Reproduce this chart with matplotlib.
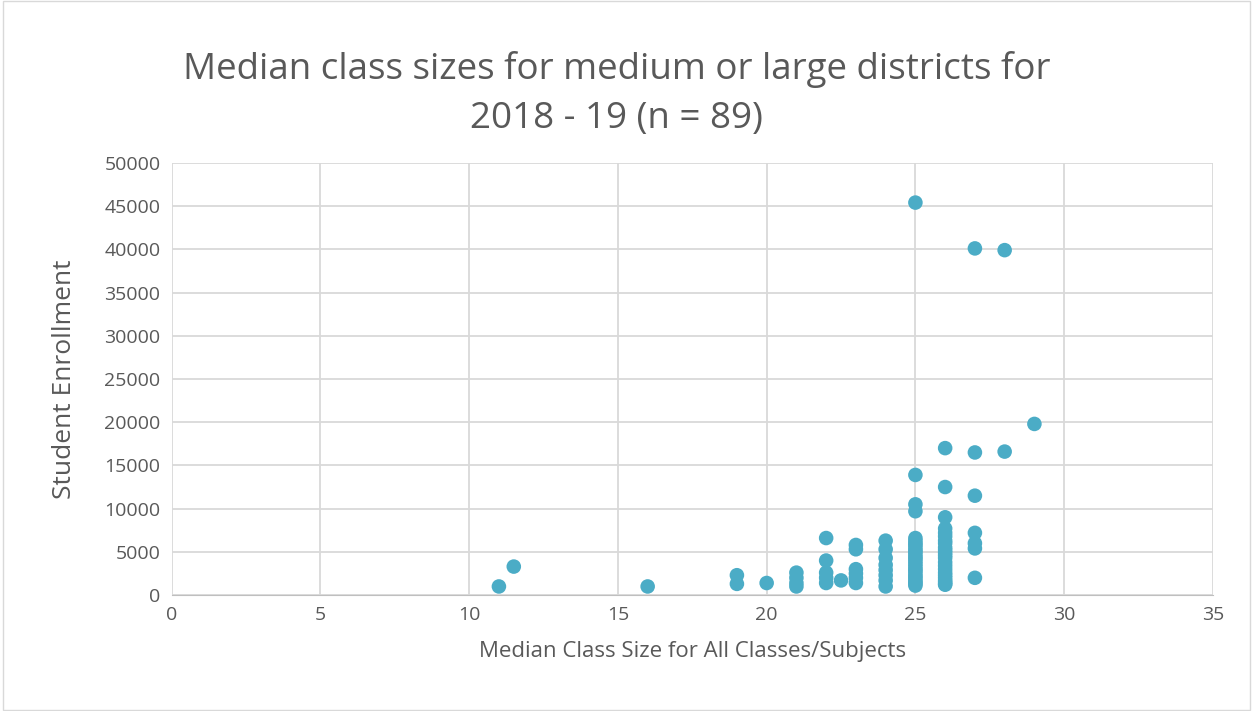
import numpy as np
import matplotlib
matplotlib.use("Agg")
import matplotlib.pyplot as plt
from matplotlib.patches import Rectangle

# median class size per district (x) and its student enrollment (y)
x_low = [11, 11.5, 16, 19, 19, 20, 21, 21, 21, 21]
y_low = [1000, 3300, 1000, 2300, 1300, 1400, 2600, 2000, 1400, 1000]

x_22 = [22, 22, 22, 22, 22, 22.5]
y_22 = [6600, 4000, 2600, 2000, 1400, 1700]

x_23 = [23] * 6
y_23 = [5800, 5300, 3000, 2500, 2000, 1400]

x_24 = [24] * 8
y_24 = [6300, 5300, 4300, 3500, 2900, 2300, 1700, 1000]

x_25 = [25] * 26
y_25 = [45400, 13900, 10500, 9700, 6600, 6300, 6000, 5800, 5500, 5200, 5000,
        4700, 4400, 4200, 3900, 3600, 3300, 3000, 2800, 2500, 2200, 2000,
        1700, 1500, 1300, 1100]

x_26 = [26] * 23
y_26 = [17000, 12500, 9000, 7700, 7200, 6800, 6300, 6000, 5500, 5200, 4900,
        4600, 4300, 3800, 3400, 3000, 2600, 2300, 2000, 1700, 1500, 1300, 1200]

x_high = [27, 27, 27, 27, 27, 27, 27, 28, 28, 29]
y_high = [40100, 16500, 11500, 7200, 6000, 5400, 2000, 39900, 16600, 19800]

xs = x_low + x_22 + x_23 + x_24 + x_25 + x_26 + x_high
ys = y_low + y_22 + y_23 + y_24 + y_25 + y_26 + y_high

TXT, GRID, DOT = "#595959", "#D9D9D9", "#4BACC6"
plt.rcParams["font.family"] = ["Open Sans", "DejaVu Sans"]

fig = plt.figure(figsize=(12.53, 7.11), dpi=100)
fig.patches.append(Rectangle((0.002, 0.002), 0.996, 0.996, transform=fig.transFigure,
                             fill=False, edgecolor="#D9D9D9", lw=1))
ax = fig.add_axes([0.137, 0.163, 0.831, 0.608])

ax.scatter(xs, ys, s=110, color=DOT, edgecolor="none", zorder=3)

ax.set_xlim(0, 35); ax.set_ylim(0, 50000)
ax.set_xticks(np.arange(0, 36, 5)); ax.set_yticks(np.arange(0, 50001, 5000))
ax.grid(True, color=GRID, lw=1.3, zorder=0)
ax.set_axisbelow(True)
for s in ["top", "right", "left"]:
    ax.spines[s].set_visible(False)
ax.spines["bottom"].set_color("#BFBFBF")
ax.tick_params(length=0, labelsize=14, labelcolor=TXT, pad=8)

ax.set_xlabel("Median Class Size for All Classes/Subjects", fontsize=16, color=TXT, labelpad=12)
ax.set_ylabel("Student Enrollment", fontsize=19, color=TXT, labelpad=20)

fig.text(0.492, 0.868, "Median class sizes for medium or large districts for\n2018 - 19 (n = 89)",
         ha="center", va="center", fontsize=26.5, color=TXT, linespacing=1.5)

fig.savefig("out.png", dpi=100)
